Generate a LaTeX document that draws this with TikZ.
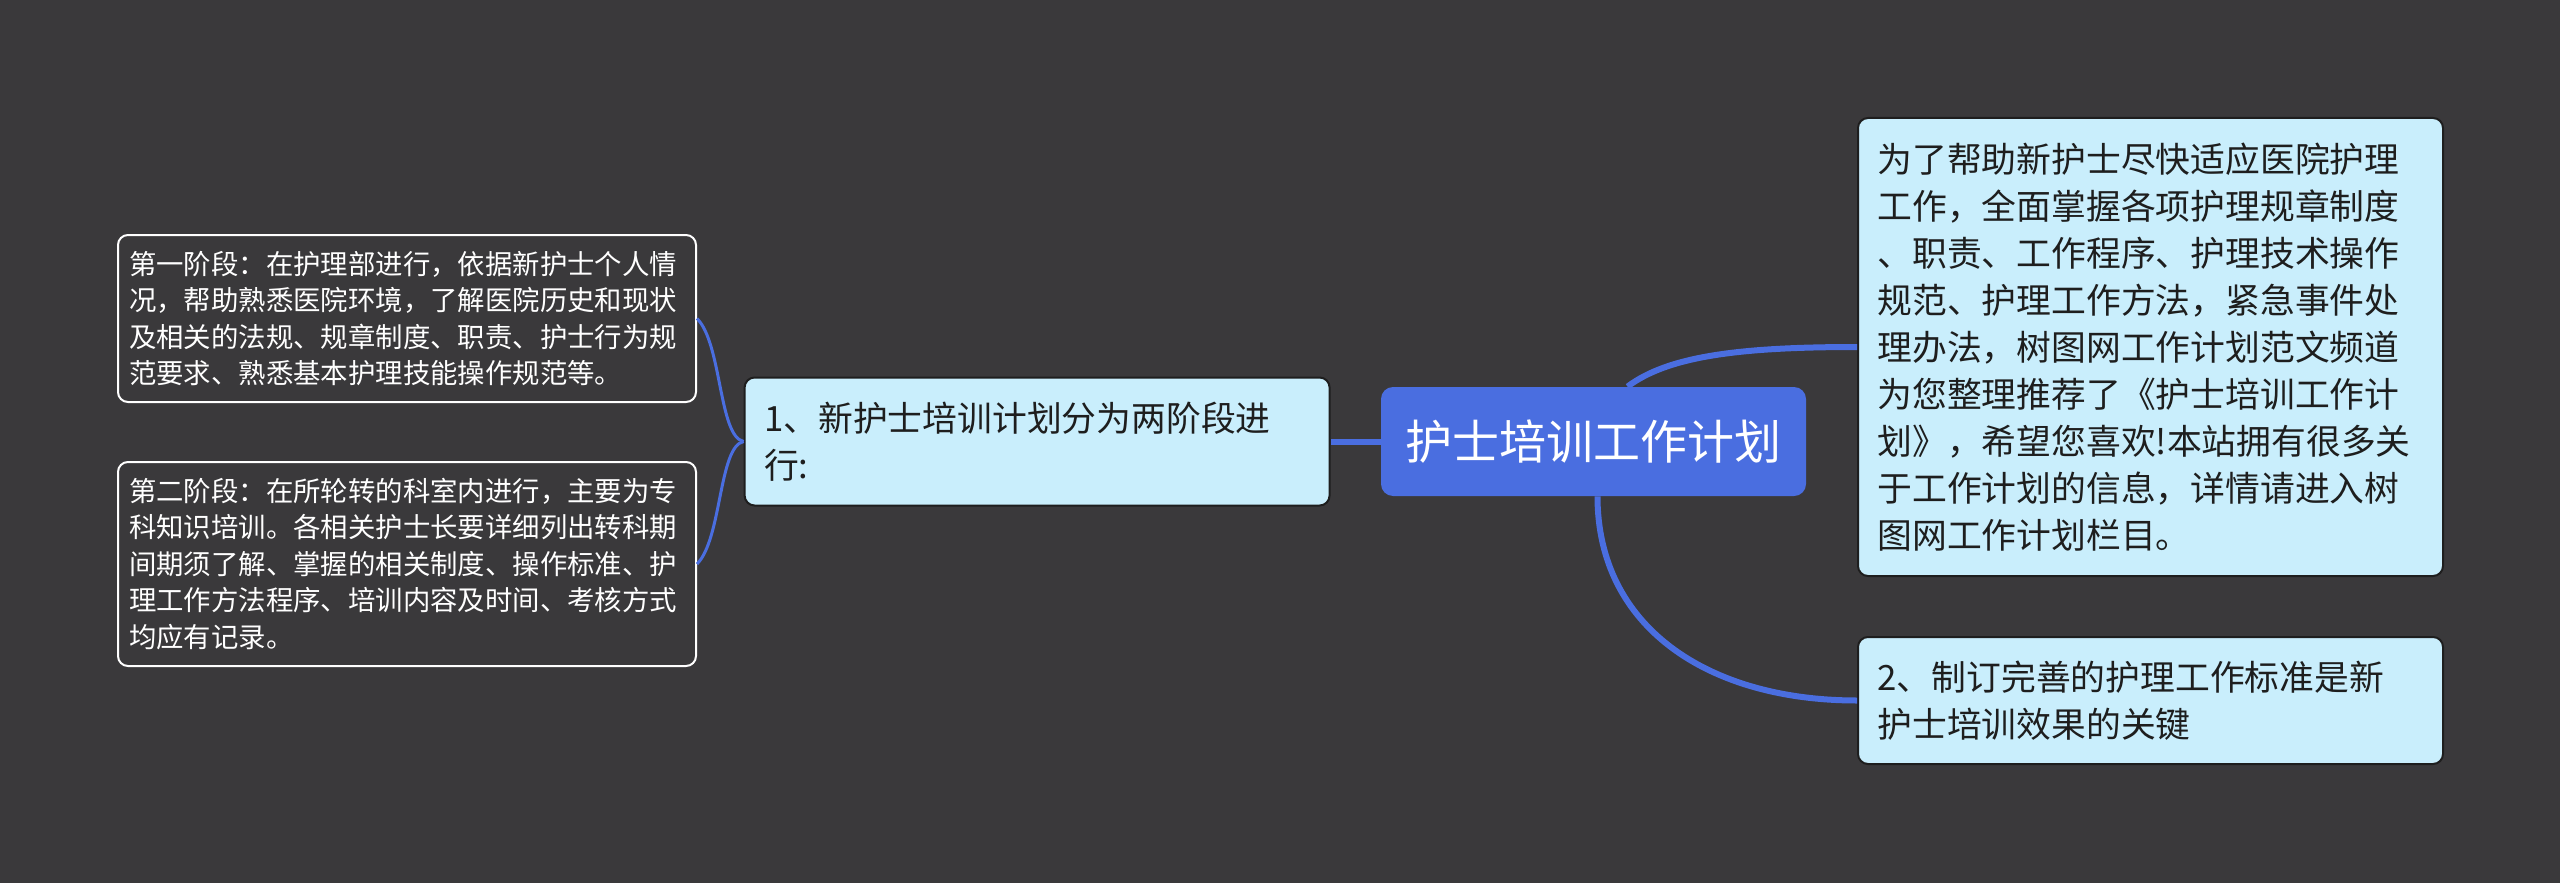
\documentclass[tikz,border=0pt]{standalone}
\usepackage{fontspec}
\setmainfont{Noto Sans CJK SC}
\usepackage{tikz}
\usetikzlibrary{positioning}
\usepackage{xcolor}
\definecolor{bgc}{HTML}{3A393B}
\definecolor{rootblue}{HTML}{4A6EE0}
\definecolor{paleblue}{HTML}{C9EEFC}
\definecolor{inkc}{HTML}{1E1E1E}

\begin{document}
\begin{tikzpicture}[x=0.5pt,y=-0.5pt,
    rootbox/.style={fill=rootblue,text=white,rounded corners=6pt,minimum width=212.5pt,minimum height=54.5pt,
        font=\fontsize{23.5}{28}\selectfont},
    topic/.style={fill=paleblue,draw=inkc,line width=1pt,text=inkc,rounded corners=5pt,align=left,
        inner xsep=9.5pt,minimum width=292.5pt,text width=273pt,font=\fontsize{17.4}{23.5}\selectfont},
    stagebox/.style={fill=bgc,draw=white,line width=1pt,text=white,rounded corners=5pt,align=left,
        inner xsep=5.5pt,minimum width=289pt,text width=278pt,font=\fontsize{13.7}{18.25}\selectfont},
    thicklink/.style={draw=rootblue,line width=3pt},
    thinlink/.style={draw=rootblue,line width=1.5pt}]
   \fill[bgc] (0,0) rectangle (2560,883);
   \useasboundingbox (0,0) rectangle (2560,883);
   \node[rootbox] (root) at (1593.5,441.5) {护士培训工作计划};
   \node[topic,minimum height=64pt] (n1) [left=25pt of root] {1、新护士培训计划分为两阶段进\\行:};
   \node[stagebox,minimum height=83.5pt] (s1) at (407,318.5) {第一阶段：在护理部进行，依据新护士个人情\\况，帮助熟悉医院环境，了解医院历史和现状\\及相关的法规、规章制度、职责、护士行为规\\范要求、熟悉基本护理技能操作规范等。};
   \node[stagebox,minimum height=102pt] (s2) at (407,564) {第二阶段：在所轮转的科室内进行，主要为专\\科知识培训。各相关护士长要详细列出转科期\\间期须了解、掌握的相关制度、操作标准、护\\理工作方法程序、培训内容及时间、考核方式\\均应有记录。};
   \node[topic,minimum height=229pt] (rt) at (2150.5,347) {为了帮助新护士尽快适应医院护理\\工作，全面掌握各项护理规章制度\\、职责、工作程序、护理技术操作\\规范、护理工作方法，紧急事件处\\理办法，树图网工作计划范文频道\\为您整理推荐了《护士培训工作计\\划》，希望您喜欢!本站拥有很多关\\于工作计划的信息，详情请进入树\\图网工作计划栏目。};
   \node[topic,minimum height=63.5pt] (rb) at (2150.5,700.5) {2、制订完善的护理工作标准是新\\护士培训效果的关键};

   \path[thicklink] (root.west) -- (n1.east);
   \path[thinlink] (n1.west) .. controls +(-25,-5) and +(25,25) .. (s1.east);
   \path[thinlink] (n1.west) .. controls +(-25,5) and +(25,-25) .. (s2.east);
   \path[thicklink] ([xshift=17pt]root.north) .. controls +(40,-30) and +(-120,0) .. (rt.west);
   \path[thicklink] ([xshift=2pt]root.south) .. controls +(0,130) and +(-150,0) .. (rb.west);
\end{tikzpicture}
\end{document}
